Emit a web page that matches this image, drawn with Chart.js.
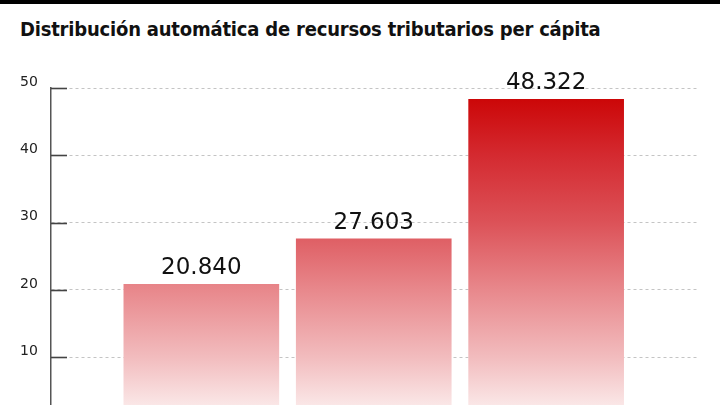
<!DOCTYPE html>
<html lang="es">
<head>
    <meta charset="UTF-8">
    <title>Distribución automática de recursos tributarios per cápita</title>
    <style>
        body {
            margin: 0;
            width: 720px;
            height: 405px;
            overflow: hidden;
            background: #fff;
            position: relative;
        }
        .top-rule {
            position: absolute;
            left: 0; top: 0;
            width: 720px; height: 4px;
            background: #000;
        }
        h1 {
            position: absolute;
            left: 20px; top: 15px;
            margin: 0;
            font-family: 'DejaVu Sans Condensed', sans-serif;
            font-weight: bold;
            font-size: 20px;
            letter-spacing: -0.2px;
            line-height: 28px;
            color: #111;
            white-space: nowrap;
        }
        .chart-box {
            position: absolute;
            left: 0; top: 0;
            width: 720px; height: 433px;
        }
    </style>
</head>
<body>
    <div class="top-rule"></div>
    <h1>Distribución automática de recursos tributarios per cápita</h1>
    <div class="chart-box"><canvas id="chart"></canvas></div>

    <script src="https://cdn.jsdelivr.net/npm/chart.js"></script>
    <script>
        // data (pesos per cápita)
        const categories = ['Grupo 1', 'Grupo 2', 'Grupo 3'];
        const positions = [1, 2, 3];
        const values = [20840, 27603, 48322];
        const yTicks = [10, 20, 30, 40, 50]; // thousands

        // "20840" -> "20.840"
        const fmt = v => String(v).replace(/\B(?=(\d{3})+(?!\d))/g, '.');

        const barGradient = (ctx) => {
            const area = ctx.chart.chartArea;
            if (!area) return '#e06060';
            const g = ctx.chart.ctx.createLinearGradient(0, area.top, 0, area.bottom);
            g.addColorStop(0.0, '#ca0000');
            g.addColorStop(0.2, '#d42a30');
            g.addColorStop(0.4, '#dc5258');
            g.addColorStop(0.6, '#e8888c');
            g.addColorStop(0.8, '#f2bcbe');
            g.addColorStop(0.94, '#fae6e6');
            g.addColorStop(1.0, '#fdf3f3');
            return g;
        };

        // short solid tick marks inside the plot, on top of the dashed grid
        const tickMarks = {
            id: 'tickMarks',
            beforeDatasetsDraw(chart) {
                const y = chart.scales.y;
                const c = chart.ctx;
                c.save();
                c.strokeStyle = '#444';
                c.lineWidth = 1.6;
                yTicks.forEach(t => {
                    const py = Math.round(y.getPixelForValue(t * 1000)) + 0.5;
                    c.beginPath();
                    c.moveTo(chart.chartArea.left, py);
                    c.lineTo(chart.chartArea.left + 16, py);
                    c.stroke();
                });
                c.restore();
            }
        };

        const valueLabels = {
            id: 'valueLabels',
            afterDatasetsDraw(chart) {
                const c = chart.ctx;
                const meta = chart.getDatasetMeta(0);
                c.save();
                c.font = '23px "DejaVu Sans", sans-serif';
                c.fillStyle = '#111';
                c.textAlign = 'center';
                c.textBaseline = 'alphabetic';
                meta.data.forEach((bar, i) => {
                    c.fillText(fmt(values[i]), bar.x, bar.y - 10);
                });
                c.restore();
            }
        };

        new Chart(document.getElementById('chart'), {
            type: 'bar',
            data: {
                datasets: [{
                    label: 'Per cápita',
                    data: positions.map((x, i) => ({ x: x, y: values[i], name: categories[i] })),
                    backgroundColor: barGradient,
                    borderWidth: 0,
                    barThickness: 155
                }]
            },
            options: {
                responsive: true,
                maintainAspectRatio: false,
                animation: false,
                layout: { padding: { top: 88, left: 20, right: 23, bottom: 0 } },
                plugins: {
                    legend: { display: false },
                    tooltip: { enabled: false }
                },
                scales: {
                    x: {
                        type: 'linear',
                        min: 0.128,
                        max: 3.875,
                        offset: false,
                        display: false,
                        grid: { display: false, offset: false }
                    },
                    y: {
                        min: 0,
                        max: 50000,
                        afterFit: s => { s.width = 31; },
                        afterBuildTicks: s => {
                            s.ticks = yTicks.map(t => ({ value: t * 1000 }));
                        },
                        border: { display: true, color: '#555', width: 1.5, dash: [3, 3] },
                        grid: {
                            color: '#c4c4c4',
                            lineWidth: 1,
                            drawTicks: false,
                            tickLength: 0
                        },
                        ticks: {
                            color: '#222',
                            font: { family: '"DejaVu Sans", sans-serif', size: 14 },
                            padding: 0,
                            crossAlign: 'far',
                            labelOffset: -6,
                            callback: v => String(v / 1000)
                        }
                    }
                }
            },
            plugins: [tickMarks, valueLabels]
        });
    </script>
</body>
</html>
